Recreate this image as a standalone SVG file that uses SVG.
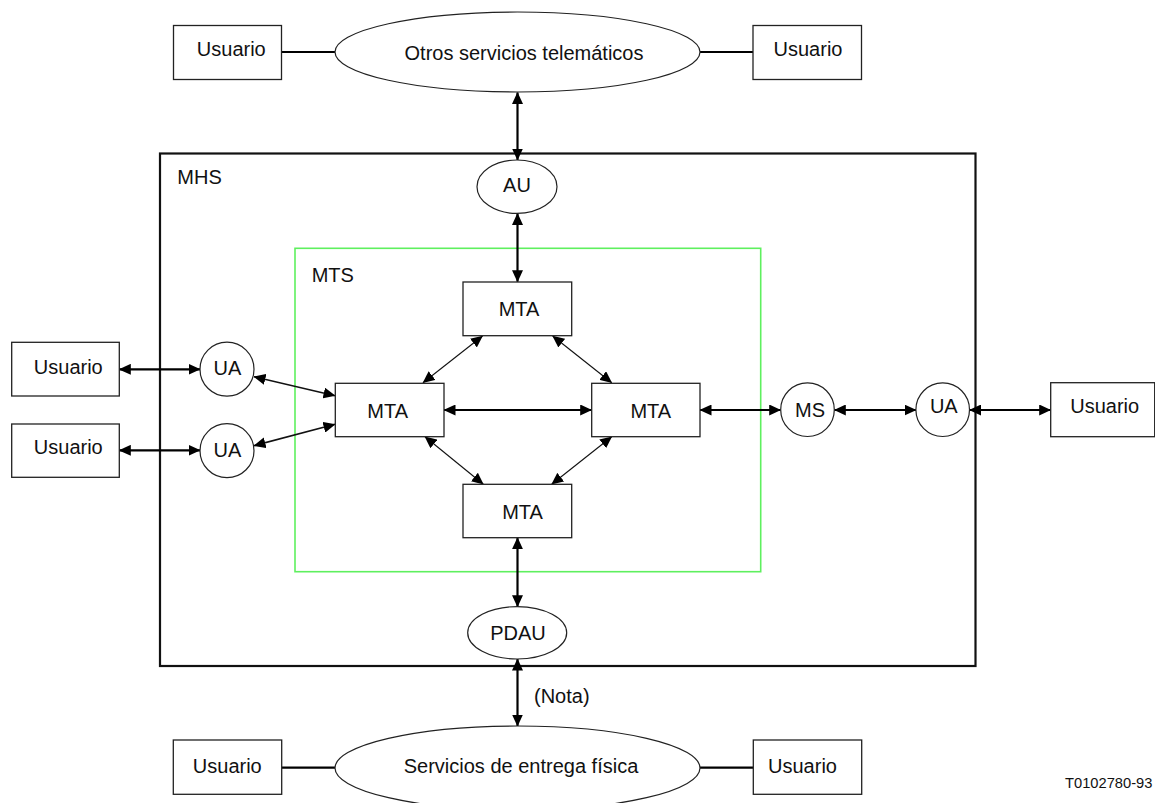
<svg xmlns="http://www.w3.org/2000/svg" width="1155" height="803" viewBox="0 0 1155 803">
  <style>
    text { font-family: "Liberation Sans", Arial, sans-serif; font-size: 20px; fill: #111; }
    .mid { text-anchor: middle; }
    .box { fill: #fff; stroke: #222; stroke-width: 1.3; }
    .oval { fill: #fff; stroke: #222; stroke-width: 1.2; }
    .frame { fill: none; stroke: #111; stroke-width: 2.2; }
    .mts { fill: none; stroke: #5ef05e; stroke-width: 1.6; }
    .link { stroke: #000; stroke-width: 2.2; fill: none; }
    .thin { stroke: #111; stroke-width: 1.1; fill: none; }
    .mid1 { stroke: #111; stroke-width: 1.6; fill: none; }
    .both { marker-start: url(#head); marker-end: url(#head); }
  </style>
  <defs>
    <!-- filled arrowhead shared by every two-way connector -->
    <marker id="head" viewBox="0 0 12 11" refX="11.5" refY="5.5" markerWidth="12" markerHeight="11" markerUnits="userSpaceOnUse" orient="auto-start-reverse">
      <path d="M0,0 L12,5.5 L0,11 Z" fill="#000"/>
    </marker>
  </defs>

  <rect fill="#fff" x="0" y="0" width="1155" height="803"/>

  <!-- containers -->
  <g id="mhs">
    <rect class="frame" x="160" y="153.5" width="815.5" height="512.5"/>
    <text x="177.3" y="184.3">MHS</text>
  </g>
  <g id="mts">
    <rect class="mts" x="295" y="248.3" width="465.7" height="323.4"/>
    <text x="311.7" y="281.7">MTS</text>
  </g>

  <!-- connectors -->
  <g id="connectors">
    <line class="link" x1="282" y1="52" x2="335" y2="52"/>
    <line class="link" x1="700" y1="52" x2="753" y2="52"/>
    <line class="link both" x1="517.5" y1="92.5" x2="517.5" y2="160"/>
    <line class="link both" x1="517.5" y1="213.4" x2="517.5" y2="281.7"/>
    <line class="thin both" x1="482.5" y1="336" x2="423" y2="382.7"/>
    <line class="thin both" x1="552.7" y1="336" x2="611.7" y2="382.7"/>
    <line class="thin both" x1="425" y1="436.7" x2="483.3" y2="484.3"/>
    <line class="thin both" x1="611.7" y1="436.7" x2="551.7" y2="484.3"/>
    <line class="link both" x1="444" y1="410" x2="591.7" y2="410"/>
    <line class="link both" x1="700" y1="410" x2="780.7" y2="410"/>
    <line class="link both" x1="834.3" y1="410" x2="916" y2="410"/>
    <line class="link both" x1="969.5" y1="410" x2="1050.7" y2="410"/>
    <line class="link both" x1="119.3" y1="369.3" x2="200" y2="369.3"/>
    <line class="link both" x1="119.3" y1="450.3" x2="200" y2="450.3"/>
    <line class="mid1 both" x1="254" y1="376.7" x2="335" y2="395.7"/>
    <line class="mid1 both" x1="254" y1="445.7" x2="335" y2="424.3"/>
    <line class="link both" x1="517.5" y1="537.7" x2="517.5" y2="606.7"/>
    <line class="link both" x1="517.5" y1="659" x2="517.5" y2="726"/>
    <line class="link" x1="281.7" y1="767.7" x2="335" y2="767.7"/>
    <line class="link" x1="700" y1="767.7" x2="753.3" y2="767.7"/>
    <text x="534" y="703.3">(Nota)</text>
  </g>

  <!-- top row -->
  <g id="usuario-top-left">
    <rect class="box" x="173.5" y="25.5" width="108" height="54"/>
    <text class="mid" x="231.3" y="56">Usuario</text>
  </g>
  <g id="otros-servicios">
    <ellipse class="oval" cx="517.5" cy="52" rx="182.5" ry="40"/>
    <text class="mid" x="524" y="60">Otros servicios telemáticos</text>
  </g>
  <g id="usuario-top-right">
    <rect class="box" x="753" y="25.5" width="108.5" height="54"/>
    <text class="mid" x="808" y="56">Usuario</text>
  </g>

  <!-- inside MHS -->
  <g id="au">
    <ellipse class="oval" cx="517" cy="186.7" rx="40" ry="26.7"/>
    <text class="mid" x="517" y="191.7">AU</text>
  </g>
  <g id="mta-top">
    <rect class="box" x="463" y="282" width="108.7" height="53.7"/>
    <text class="mid" x="519" y="316">MTA</text>
  </g>
  <g id="mta-left">
    <rect class="box" x="335.3" y="383.3" width="108.7" height="53.4"/>
    <text class="mid" x="387.7" y="418.3">MTA</text>
  </g>
  <g id="mta-right">
    <rect class="box" x="591.7" y="383.3" width="108.3" height="53.4"/>
    <text class="mid" x="650.8" y="418.3">MTA</text>
  </g>
  <g id="mta-bottom">
    <rect class="box" x="463" y="484.3" width="108.7" height="53.4"/>
    <text class="mid" x="522.5" y="519.3">MTA</text>
  </g>
  <g id="pdau">
    <ellipse class="oval" cx="517.2" cy="632.8" rx="49.5" ry="26.2"/>
    <text class="mid" x="518" y="640">PDAU</text>
  </g>
  <g id="ua-left-1">
    <circle class="oval" cx="227" cy="369.2" r="27"/>
    <text class="mid" x="227.5" y="375">UA</text>
  </g>
  <g id="ua-left-2">
    <circle class="oval" cx="227" cy="450.7" r="27"/>
    <text class="mid" x="227.5" y="456.5">UA</text>
  </g>
  <g id="ms">
    <circle class="oval" cx="807.5" cy="409.7" r="26.8"/>
    <text class="mid" x="810" y="417">MS</text>
  </g>
  <g id="ua-right">
    <circle class="oval" cx="942.7" cy="409.7" r="26.8"/>
    <text class="mid" x="943.8" y="413.3">UA</text>
  </g>

  <!-- outside users -->
  <g id="usuario-left-1">
    <rect class="box" x="11.7" y="342.3" width="107.6" height="53.7"/>
    <text class="mid" x="68.3" y="374.3">Usuario</text>
  </g>
  <g id="usuario-left-2">
    <rect class="box" x="11.7" y="424" width="107.6" height="53.3"/>
    <text class="mid" x="68.3" y="454">Usuario</text>
  </g>
  <g id="usuario-right">
    <rect class="box" x="1050.7" y="382.7" width="104" height="54"/>
    <text class="mid" x="1104.7" y="413.3">Usuario</text>
  </g>

  <!-- bottom row -->
  <g id="usuario-bottom-left">
    <rect class="box" x="173.3" y="740" width="108.4" height="54.3"/>
    <text class="mid" x="227.3" y="772.7">Usuario</text>
  </g>
  <g id="entrega-fisica">
    <ellipse class="oval" cx="517.5" cy="768" rx="182.5" ry="42"/>
    <text class="mid" x="521" y="772.7">Servicios de entrega física</text>
  </g>
  <g id="usuario-bottom-right">
    <rect class="box" x="753.3" y="740" width="108.4" height="54.3"/>
    <text class="mid" x="802.5" y="772.7">Usuario</text>
  </g>

  <text x="1065" y="788.3" style="font-size:14.7px">T0102780-93</text>
</svg>
